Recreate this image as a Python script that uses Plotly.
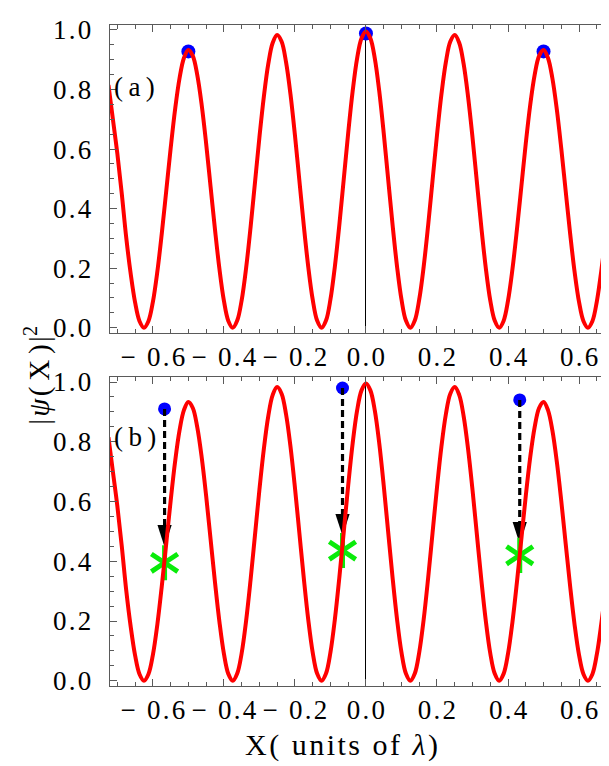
import plotly.graph_objects as go

# ---------------- data ----------------
x_vals = [-0.725, -0.7125, -0.7, -0.6875, -0.675, -0.6625, -0.65, -0.6375, -0.625, -0.6125,
          -0.6, -0.5875, -0.575, -0.5625, -0.55, -0.5375, -0.525, -0.5125, -0.5, -0.4875,
          -0.475, -0.4625, -0.45, -0.4375, -0.425, -0.4125, -0.4, -0.3875, -0.375, -0.3625,
          -0.35, -0.3375, -0.325, -0.3125, -0.3, -0.2875, -0.275, -0.2625, -0.25, -0.2375,
          -0.225, -0.2125, -0.2, -0.1875, -0.175, -0.1625, -0.15, -0.1375, -0.125, -0.1125,
          -0.1, -0.0875, -0.075, -0.0625, -0.05, -0.0375, -0.025, -0.0125, 0.0,
          0.0125, 0.025, 0.0375, 0.05, 0.0625, 0.075, 0.0875, 0.1, 0.1125, 0.125,
          0.1375, 0.15, 0.1625, 0.175, 0.1875, 0.2, 0.2125, 0.225, 0.2375, 0.25,
          0.2625, 0.275, 0.2875, 0.3, 0.3125, 0.325, 0.3375, 0.35, 0.3625, 0.375,
          0.3875, 0.4, 0.4125, 0.425, 0.4375, 0.45, 0.4625, 0.475, 0.4875, 0.5,
          0.5125, 0.525, 0.5375, 0.55, 0.5625, 0.575, 0.5875, 0.6, 0.6125, 0.625,
          0.6375, 0.65, 0.6625, 0.675, 0.6875, 0.7, 0.7125]
psi_sq = [0.815, 0.700, 0.585, 0.450, 0.303, 0.182, 0.085, 0.022, 0.000, 0.022,
          0.086, 0.187, 0.315, 0.457, 0.601, 0.732, 0.837, 0.906, 0.933, 0.913,
          0.849, 0.748, 0.619, 0.474, 0.329, 0.197, 0.091, 0.023, 0.000, 0.024,
          0.092, 0.200, 0.336, 0.487, 0.639, 0.776, 0.886, 0.957, 0.983, 0.961,
          0.892, 0.784, 0.647, 0.495, 0.343, 0.205, 0.095, 0.024, 0.000, 0.024,
          0.095, 0.206, 0.345, 0.499, 0.654, 0.794, 0.904, 0.972, 0.995,
          0.972, 0.904, 0.794, 0.654, 0.499, 0.345, 0.206, 0.095, 0.024, 0.000,
          0.024, 0.095, 0.205, 0.343, 0.495, 0.647, 0.784, 0.892, 0.961, 0.983,
          0.957, 0.886, 0.776, 0.639, 0.487, 0.336, 0.200, 0.092, 0.024, 0.000,
          0.023, 0.091, 0.197, 0.329, 0.474, 0.619, 0.748, 0.849, 0.913, 0.933,
          0.906, 0.837, 0.732, 0.601, 0.457, 0.315, 0.187, 0.086, 0.022, 0.000,
          0.022, 0.088, 0.190, 0.310, 0.450, 0.620, 0.735]

# panel (a): blue points on the peaks
peak_x = [-0.5, 0.0, 0.5]
peak_y = [0.928, 0.988, 0.928]

# panel (b): blue start points, arrow tips, green stars
dot_x = [-0.567, -0.066, 0.433]
dot_y = [0.910, 0.980, 0.940]
arrow_tip_y = [0.448, 0.485, 0.458]
star_y = [0.395, 0.436, 0.420]

tick_vals = [-0.6, -0.4, -0.2, 0.0, 0.2, 0.4, 0.6]
tick_text = ["\u2212 0.6", "\u2212 0.4", "\u2212 0.2", "0.0", "0.2", "0.4", "0.6"]
ytick_vals = [0.0, 0.2, 0.4, 0.6, 0.8, 1.0]
ytick_text = ["0.0", "0.2", "0.4", "0.6", "0.8", "1.0"]

# ---------------- styles ----------------
RED = "#ff0000"
BLUE = "#0000ff"
GREEN = "rgb(10,235,10)"
FRAME = "#5a5a5a"
FONT = "Liberation Serif"
HS = "\u200a"   # hair space: loose letter tracking of the original
TS = "\u2009"   # thin space


def track(s):
    return HS.join(list(s))


fig = go.Figure()

# panel (a)
fig.add_trace(go.Scatter(x=peak_x, y=peak_y, mode="markers",
                         marker=dict(color=BLUE, size=14), xaxis="x", yaxis="y",
                         showlegend=False))
fig.add_trace(go.Scatter(x=x_vals, y=psi_sq, mode="lines",
                         line=dict(color=RED, width=4, shape="spline"),
                         xaxis="x", yaxis="y", showlegend=False))

# panel (b)
fig.add_trace(go.Scatter(x=dot_x, y=dot_y, mode="markers",
                         marker=dict(color=BLUE, size=13), xaxis="x2", yaxis="y2",
                         showlegend=False))
dash_x, dash_y = [], []
for xd, y0, yt in zip(dot_x, dot_y, arrow_tip_y):
    dash_x += [xd, xd, None]
    dash_y += [y0, yt + 0.025, None]
fig.add_trace(go.Scatter(x=dash_x, y=dash_y, mode="lines",
                         line=dict(color="black", width=3.2, dash="7px,4px"),
                         xaxis="x2", yaxis="y2", showlegend=False, connectgaps=False))
fig.add_trace(go.Scatter(x=dot_x, y=arrow_tip_y, mode="markers",
                         marker=dict(symbol="arrow", angle=180, size=23, color="black",
                                     line=dict(width=0)),
                         xaxis="x2", yaxis="y2", showlegend=False))
for sym in ["y-up", "y-down"]:
    fig.add_trace(go.Scatter(x=dot_x, y=star_y, mode="markers",
                             marker=dict(symbol=sym, size=22,
                                         line=dict(color=GREEN, width=5)),
                             xaxis="x2", yaxis="y2", showlegend=False))
fig.add_trace(go.Scatter(x=x_vals, y=psi_sq, mode="lines",
                         line=dict(color=RED, width=4, shape="spline"),
                         xaxis="x2", yaxis="y2", showlegend=False))

W, H = 609, 766
xdom = [101.7 / W, 607.0 / W]
ydom_top = [1 - 324.0 / H, 1 - 8.0 / H]
ydom_bot = [1 - 686.0 / H, 1 - 369.0 / H]

xaxis_common = dict(
    range=[-0.7215, 0.7012], domain=xdom,
    tickmode="array", tickvals=tick_vals, ticktext=[track(t) for t in tick_text],
    ticks="inside", ticklen=7, tickwidth=1, tickcolor=FRAME,
    minor=dict(tickmode="linear", tick0=0, dtick=0.05, ticks="inside",
               ticklen=4, tickwidth=1, tickcolor=FRAME),
    showline=True, linecolor=FRAME, linewidth=1, mirror="allticks",
    showgrid=False, zeroline=True, zerolinecolor="black", zerolinewidth=1,
    tickfont=dict(family=FONT, size=27, color="black"),
    ticklabelstandoff=0,
)
yaxis_common = dict(
    range=[-0.0175, 1.0173],
    tickmode="array", tickvals=ytick_vals, ticktext=[track(t) for t in ytick_text],
    ticks="inside", ticklen=7, tickwidth=1, tickcolor=FRAME,
    minor=dict(tickmode="linear", tick0=0, dtick=0.05, ticks="inside",
               ticklen=4, tickwidth=1, tickcolor=FRAME),
    showline=True, linecolor=FRAME, linewidth=1, mirror="allticks",
    showgrid=False, zeroline=False,
    tickfont=dict(family=FONT, size=27, color="black"),
    ticklabelstandoff=12,
)

xtitle = HS.join(["X", "(", " ", "u", "n", "i", "t", "s", " ", "o", "f", " ",
                  "<i>\u03bb</i>", ")"])
ytitle = "|" + HS + "<i>\u03c8</i>" + HS + "(" + TS + "X" + TS + ")" + HS + "|<sup>2</sup>"

fig.update_layout(
    width=W, height=H,
    margin=dict(l=0, r=0, t=0, b=0),
    paper_bgcolor="white", plot_bgcolor="white",
    xaxis=dict(**xaxis_common, anchor="y"),
    yaxis=dict(**yaxis_common, domain=ydom_top, anchor="x"),
    xaxis2=dict(**xaxis_common, anchor="y2"),
    yaxis2=dict(**yaxis_common, domain=ydom_bot, anchor="x2"),
    annotations=[
        dict(text="(" + TS + "a" + TS + ")", xref="x domain", yref="y", x=0.004, y=0.81,
             xanchor="left", yanchor="middle", showarrow=False,
             font=dict(family=FONT, size=27, color="black")),
        dict(text="(" + TS + "b" + TS + ")", xref="x2 domain", yref="y2", x=0.004, y=0.815,
             xanchor="left", yanchor="middle", showarrow=False,
             font=dict(family=FONT, size=27, color="black")),
        dict(text=xtitle, xref="paper", yref="paper",
             x=333 / W, y=1 - 747 / H, xanchor="center", yanchor="middle",
             showarrow=False, font=dict(family=FONT, size=30, color="black")),
        dict(text=ytitle, xref="paper", yref="paper",
             x=30 / W, y=1 - 368 / H, xanchor="center", yanchor="middle",
             textangle=-90, showarrow=False,
             font=dict(family=FONT, size=29, color="black")),
    ],
)

fig.write_html("out.html")
